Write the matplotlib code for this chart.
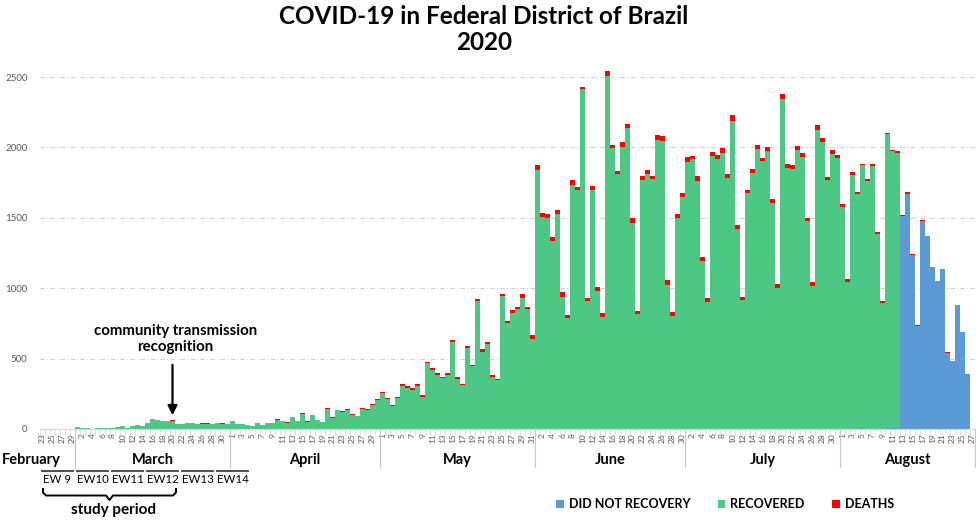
import numpy as np
import matplotlib
matplotlib.use("Agg")
import matplotlib.pyplot as plt
import matplotlib.transforms as transforms
from matplotlib.lines import Line2D

plt.rcParams['font.family'] = ['Lato', 'DejaVu Sans']

# daily cases, Feb 23 - Aug 27 2020
feb_cases = [0, 1, 2, 1, 0, 1, 0]
mar_cases = [11, 10, 4, 3, 5, 7, 7, 9, 12, 19, 10, 19, 26, 21, 43, 71, 67, 60, 60, 62,
             36, 36, 45, 43, 36, 40, 40, 33, 45, 40, 36]
apr_cases = [57, 38, 36, 31, 19, 45, 31, 43, 45, 69, 57, 48, 86, 57, 114, 55, 100, 64, 52, 148,
             83, 136, 128, 140, 105, 95, 148, 143, 176, 213]
may_cases = [261, 223, 171, 230, 318, 306, 289, 320, 242, 479, 431, 396, 372, 396, 630, 367,
             320, 588, 455, 922, 566, 617, 384, 353, 958, 770, 845, 869, 958, 869, 670]
jun_cases = [1872, 1534, 1525, 1364, 1558, 974, 808, 1766, 1716, 2433, 929, 1723, 1007, 827,
             2544, 2014, 1835, 2039, 2168, 1499, 839, 1797, 1842, 1799, 2087, 2080, 1059, 830,
             1530, 1678]
jul_cases = [1929, 1941, 1794, 1220, 934, 1969, 1948, 1993, 1813, 2229, 1447, 939, 1700, 1844,
             2017, 1924, 2000, 1631, 1033, 2381, 1884, 1872, 2007, 1964, 1501, 1043, 2161, 2064,
             1787, 1979, 1950]
aug_cases = [1600, 1064, 1825, 1681, 1886, 1775, 1879, 1397, 910, 2106, 1983, 1972, 1518, 1681,
             1243, 738, 1487, 1371, 1154, 1050, 1139, 544, 485, 879, 686, 388, 0]

# deaths
feb_deaths = [0, 0, 0, 0, 0, 0, 0]
mar_deaths = [0, 0, 0, 0, 0, 0, 0, 0, 0, 0, 0, 0, 0, 0, 1, 2, 2, 2, 2, 3, 2, 1, 2, 2, 1, 2,
              2, 1, 2, 2, 1]
apr_deaths = [2, 1, 1, 1, 1, 2, 1, 2, 2, 3, 2, 2, 3, 2, 4, 2, 3, 2, 2, 5, 3, 4, 4, 5, 4, 3,
              5, 5, 7, 7]
may_deaths = [7, 12, 9, 9, 9, 12, 12, 12, 12, 12, 12, 12, 12, 12, 12, 12, 9, 14, 9, 14, 19, 14,
              14, 7, 12, 14, 19, 14, 24, 17, 28]
jun_deaths = [35, 28, 24, 28, 33, 33, 19, 33, 19, 19, 17, 28, 28, 28, 33, 19, 24, 33, 28, 35,
              19, 28, 28, 24, 35, 33, 33, 28, 28, 28]
jul_deaths = [35, 24, 33, 28, 35, 33, 33, 33, 28, 42, 24, 24, 24, 28, 28, 19, 28, 24, 33, 35,
              28, 28, 28, 33, 24, 28, 35, 28, 19, 24, 24]
aug_deaths = [24, 19, 19, 14, 14, 14, 14, 12, 14, 9, 9, 9, 7, 14, 7, 9, 7, 0, 5, 0, 0, 5, 0,
              0, 0, 0, 0]

# cases that did not recover yet (only August)
aug_not_recovered = [0, 0, 0, 0, 5, 0, 0, 0, 0, 4, 4, 5, 1511, 1667, 1236, 729, 1480, 1371,
                     1149, 1050, 1139, 539, 485, 879, 686, 388, 0]

months = ["February", "March", "April", "May", "June", "July", "August"]
month_start_day = [23, 1, 1, 1, 1, 1, 1]
month_cases = [feb_cases, mar_cases, apr_cases, may_cases, jun_cases, jul_cases, aug_cases]

cases = np.array(sum(month_cases, []))
deaths = np.array(feb_deaths + mar_deaths + apr_deaths + may_deaths + jun_deaths
                  + jul_deaths + aug_deaths)
not_recovered = np.array([0] * (len(cases) - len(aug_cases)) + aug_not_recovered)
recovered = cases - deaths - not_recovered

# day labels and month boundaries
day_labels = []
month_edges = [0]
for start, mc in zip(month_start_day, month_cases):
    day_labels += [str(start + k) for k in range(len(mc))]
    month_edges.append(month_edges[-1] + len(mc))

x = np.arange(len(cases))

blue = "#5B9BD5"
green = "#4DC784"
red = "#FF0000"

fig = plt.figure(figsize=(9.8, 5.24), dpi=100)
ax = fig.add_axes([40 / 980, 1 - 429 / 524, 935 / 980, 366 / 524])


def fy(py):
    return 1 - py / 524


b1 = ax.bar(x, not_recovered, width=1.0, color=blue, linewidth=0, label="DID NOT RECOVERY")
b2 = ax.bar(x, recovered, width=1.0, bottom=not_recovered, color=green, linewidth=0,
            label="RECOVERED")
b3 = ax.bar(x, deaths, width=1.0, bottom=not_recovered + recovered, color=red, linewidth=0,
            label="DEATHS")

ax.set_xlim(-0.5, len(cases) - 0.5)
ax.set_ylim(0, 2600)
ax.set_yticks(np.arange(0, 2501, 500))
ax.yaxis.grid(True, color="#d0d0d0", linestyle=(0, (4, 2, 1, 2)), linewidth=0.8)
ax.set_axisbelow(True)
for s in ["top", "right", "left"]:
    ax.spines[s].set_visible(False)
ax.spines["bottom"].set_color("#d9d9d9")
ax.tick_params(axis="y", length=0, pad=9, labelsize=7, labelcolor="#595959")

ax.set_xticks(x[::2])
ax.set_xticklabels(day_labels[::2], rotation=90, fontsize=6, color="#595959")
ax.set_xticks(np.arange(-0.5, len(cases), 1), minor=True)
ax.tick_params(axis="x", which="major", length=0, pad=3)
ax.tick_params(axis="x", which="minor", length=4, color="#d9d9d9", width=0.6)

blend = transforms.blended_transform_factory(ax.transData, fig.transFigure)

# month separators and names
for e in month_edges[1:]:
    fig.add_artist(Line2D([e - 0.5, e - 0.5], [fy(429), fy(467)], transform=blend,
                          color="#c8c8c8", lw=0.8))
for i, name in enumerate(months):
    if i == 0:
        fig.text(2 / 980, fy(460), name, ha="left", va="center", fontsize=10.5,
                 fontweight="bold")
    else:
        mid = (month_edges[i] + month_edges[i + 1]) / 2 - 0.5
        fig.text(mid, fy(460), name, ha="center", va="center", fontsize=10.5,
                 fontweight="bold", transform=blend)

# epidemiological weeks
ew_names = ["EW 9", "EW10", "EW11", "EW12", "EW13", "EW14"]
for k, name in enumerate(ew_names):
    left = 7 * k - 0.5
    fig.add_artist(Line2D([left + 0.45, left + 6.55], [fy(470.5), fy(470.5)], transform=blend,
                          color="#404040", lw=1.3))
    fig.text(left + 3.5, fy(479.5), name, ha="center", va="center", fontsize=8.3,
             transform=blend)

# brace for study period
bx = [43, 43, 46, 106, 109.5, 113, 173, 176, 176]
by = [489, 492.5, 495.5, 495.5, 500, 495.5, 495.5, 492.5, 489]
fig.add_artist(Line2D([v / 980 for v in bx], [fy(v) for v in by], color="black", lw=1.4))
fig.text(113 / 980, fy(510), "study period", ha="center", va="center", fontsize=11,
         fontweight="bold")

# annotation
ax.annotate("", xy=(26, 78), xytext=(26, 476),
            arrowprops=dict(arrowstyle="-|>", color="black", lw=1.6, mutation_scale=14))
ax.text(26.6, 637, "community transmission\nrecognition", ha="center", va="center",
        fontsize=10.8, fontweight="bold", linespacing=1.2)

# title
fig.text(484 / 980, fy(17), "COVID-19 in Federal District of Brazil", ha="center",
         va="center", fontsize=17.5, fontweight="bold")
fig.text(484 / 980, fy(43), "2020", ha="center", va="center", fontsize=17.5, fontweight="bold")

fig.legend(handles=[b1, b2, b3], loc="center left", bbox_to_anchor=(545 / 980, fy(504)),
           ncol=3, frameon=False, handlelength=0.6, handleheight=0.6,
           handletextpad=0.4, columnspacing=2.2, prop={"weight": "bold", "size": 9})

fig.savefig("out.png", dpi=100)
